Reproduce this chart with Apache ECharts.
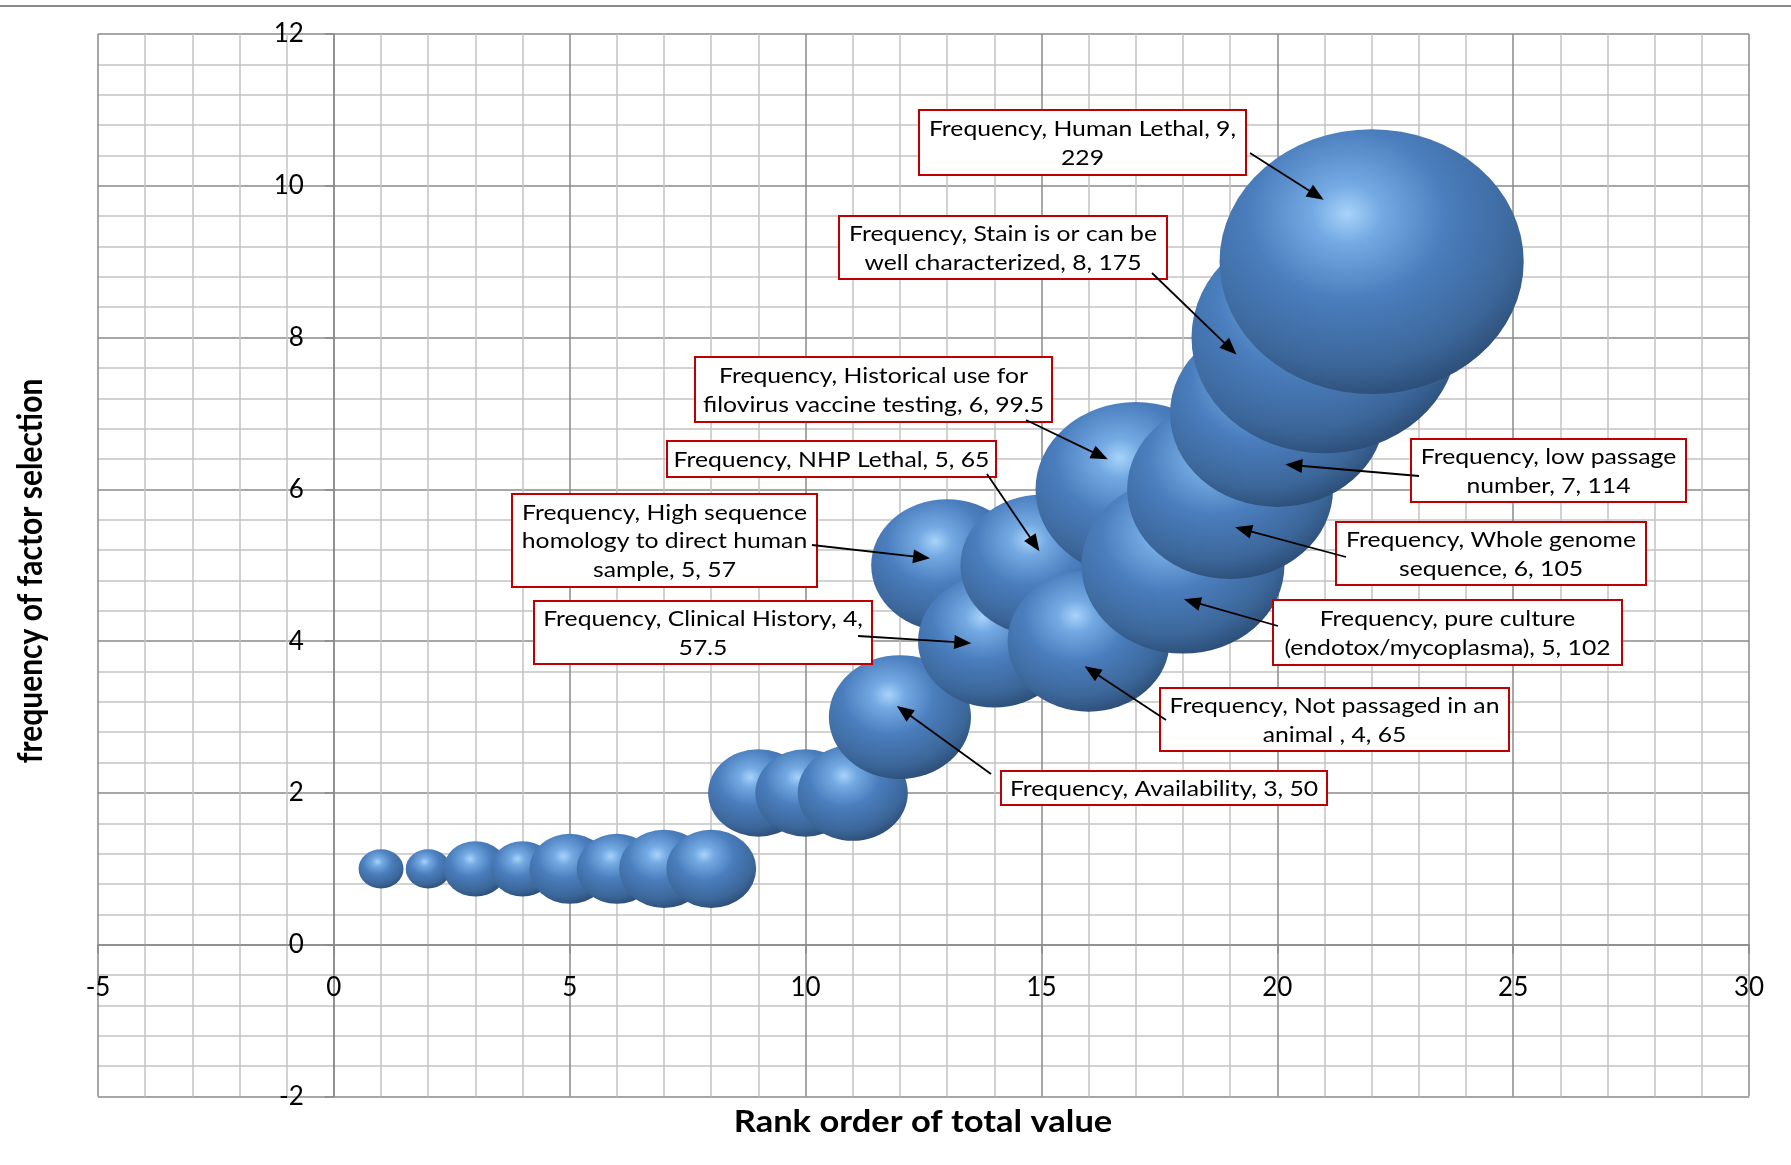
<!DOCTYPE html>
<html>
<head>
<meta charset="utf-8">
<title>Frequency of factor selection by rank order</title>
<style>
  html, body { margin: 0; padding: 0; background: #ffffff; }
  #chart { width: 1791px; height: 1165px; }
</style>
<script src="https://cdn.jsdelivr.net/npm/echarts@6/dist/echarts.min.js"></script>
</head>
<body>
<div id="chart"></div>
<script>
// ---- data -------------------------------------------------------------
const seriesName = 'Frequency';
const ranks      = [1, 2, 3, 4, 5, 6, 7, 8, 9, 10, 11, 12, 13, 14, 15, 16, 17, 18, 19, 20, 21, 22];
const frequency  = [1, 1, 1, 1, 1, 1, 1, 1, 2, 2, 2, 3, 5, 4, 5, 4, 6, 5, 6, 7, 8, 9];
const totalValue = [5, 5, 10, 10, 16, 16, 20, 20, 25, 25, 30, 50, 57, 57.5, 65, 65, 99.5, 102, 105, 114, 175, 229];
const criteria   = [
  null, null, null, null, null, null, null, null, null, null, null,
  'Availability',
  'High sequence homology to direct human sample',
  'Clinical History',
  'NHP Lethal',
  'Not passaged in an animal ',
  'Historical use for filovirus vaccine testing',
  'pure culture (endotox/mycoplasma)',
  'Whole genome sequence',
  'low passage number',
  'Stain is or can be well characterized',
  'Human Lethal'
];
const xTickLabels = [-5, 0, 5, 10, 15, 20, 25, 30];
const yTickLabels = [-2, 0, 2, 4, 6, 8, 10, 12];
const xTitle = 'Rank order of total value';
const yTitle = 'frequency of factor selection';

// ---- styling / layout ------------------------------------------------
const FONT = 'Lato, "Open Sans", sans-serif';
const STRETCH = 1.15;     // the chart is drawn slightly wide: text and bubbles share it
const bubbleKx = 20.1;    // px of width per sqrt(size)
const bubbleKy = 17.5;    // px of height per sqrt(size)

const sphere = new echarts.graphic.RadialGradient(0.42, 0.32, 0.8, [
  { offset: 0.00, color: '#a8d3fa' },
  { offset: 0.14, color: '#74aae3' },
  { offset: 0.40, color: '#4b7ebe' },
  { offset: 0.72, color: '#3b6699' },
  { offset: 0.90, color: '#2a4a72' },
  { offset: 1.00, color: '#111e31' }
]);

// callout boxes: box [x, y, w, h] in px, arrow start in px,
// arrow tip as an offset from the bubble centre, words per text line
const callouts = [
  { rank: 22, box: [919, 110, 327, 65], from: [1250, 153], tip: [-48, -62], lines: [4, 1] },
  { rank: 21, box: [839, 216, 328, 63], from: [1152, 273], tip: [-88, 17],  lines: [6, 4] },
  { rank: 17, box: [695, 357, 357, 65], from: [1026, 420], tip: [-28, -30], lines: [4, 5] },
  { rank: 15, box: [667, 441, 329, 36], from: [987, 474],  tip: [-2, -14],  lines: [5] },
  { rank: 13, box: [512, 494, 305, 93], from: [812, 545],  tip: [-17, -7],  lines: [3, 4, 3] },
  { rank: 14, box: [534, 601, 338, 63], from: [858, 636],  tip: [-23, 2],   lines: [4, 1] },
  { rank: 20, box: [1411, 439, 275, 63], from: [1419, 476], tip: [8, 51],   lines: [3, 3] },
  { rank: 19, box: [1336, 522, 310, 63], from: [1346, 557], tip: [5, 38],   lines: [3, 3] },
  { rank: 18, box: [1273, 600, 349, 65], from: [1278, 626], tip: [1, 34],   lines: [3, 3] },
  { rank: 16, box: [1160, 688, 349, 63], from: [1166, 720], tip: [-4, 25],  lines: [5, 4] },
  { rank: 12, box: [1001, 771, 326, 34], from: [991, 774],  tip: [-3, -11], lines: [4] }
];

function calloutText(i, lines) {
  const words = (seriesName + ', ' + criteria[i] + ', ' + frequency[i] + ', ' + totalValue[i]).split(' ');
  const out = [];
  let k = 0;
  lines.forEach(n => { out.push(words.slice(k, k + n).join(' ')); k += n; });
  return out.join('\n');
}

const points = ranks.map((r, i) => [r, frequency[i], totalValue[i]]);

const majorGrid = { show: true, lineStyle: { color: '#8a8a8a', width: 1.5 } };
const minorGrid = { show: true, lineStyle: { color: '#c3c3c3', width: 1.5 } };
const axisLine  = { show: true, onZero: false, lineStyle: { color: '#8a8a8a', width: 1.5 } };
const axisTick  = { show: true, length: 9, lineStyle: { color: '#8a8a8a', width: 1.5 } };

const option = {
  animation: false,
  backgroundColor: '#ffffff',
  grid: { left: 98, right: 42, top: 34, bottom: 68.5, containLabel: false },
  xAxis: {
    type: 'value',
    min: xTickLabels[0],
    max: xTickLabels[xTickLabels.length - 1],
    interval: xTickLabels[1] - xTickLabels[0],
    axisLine: axisLine,
    axisTick: axisTick,
    minorTick: { show: false, splitNumber: 5 },
    splitLine: majorGrid,
    minorSplitLine: minorGrid,
    axisLabel: { color: '#000', fontFamily: FONT, fontSize: 26, margin: 30 }
  },
  yAxis: {
    type: 'value',
    min: yTickLabels[0],
    max: yTickLabels[yTickLabels.length - 1],
    interval: yTickLabels[1] - yTickLabels[0],
    axisLine: axisLine,
    axisTick: axisTick,
    minorTick: { show: false, splitNumber: 5 },
    splitLine: majorGrid,
    minorSplitLine: minorGrid,
    axisLabel: { color: '#000', fontFamily: FONT, fontSize: 26, margin: 30 }
  },
  series: [{
    name: seriesName,
    type: 'scatter',
    data: points,
    symbol: 'circle',
    symbolSize: v => [bubbleKx * Math.sqrt(v[2]), bubbleKy * Math.sqrt(v[2])],
    itemStyle: { color: sphere, opacity: 1 },
    emphasis: { disabled: true },
    z: 3
  }],
  graphic: [
    { type: 'line', shape: { x1: 0, y1: 6, x2: 1791, y2: 6 }, style: { stroke: '#8a8a8a', lineWidth: 2 }, z: 1 },
    { type: 'text', x: 923, y: 1122, scaleX: STRETCH, z: 110,
      style: { text: xTitle, fill: '#000', fontFamily: FONT, fontWeight: 'bold', fontSize: 30,
               align: 'center', verticalAlign: 'middle', textAlign: 'center', textVerticalAlign: 'middle' } },
    { type: 'text', x: 31, y: 571, rotation: Math.PI / 2, scaleY: STRETCH, z: 110,
      style: { text: yTitle, fill: '#000', fontFamily: FONT, fontWeight: 'bold', fontSize: 30,
               align: 'center', verticalAlign: 'middle', textAlign: 'center', textVerticalAlign: 'middle' } }
  ]
};

const chart = echarts.init(document.getElementById('chart'), null, { renderer: 'canvas' });
chart.setOption(option);

// put each axis line through the other axis's zero
const origin = chart.convertToPixel({ gridIndex: 0 }, [0, 0]);
const corner = chart.convertToPixel({ gridIndex: 0 }, [xTickLabels[0], yTickLabels[0]]);
const yAxisOffset = -(origin[0] - corner[0]);
const xAxisOffset = -(corner[1] - origin[1]);

// callout boxes with arrows pointing at their bubbles
const extra = [];
callouts.forEach(c => {
  const i = ranks.indexOf(c.rank);
  const centre = chart.convertToPixel({ seriesIndex: 0 }, [ranks[i], frequency[i]]);
  const tip = [centre[0] + c.tip[0], centre[1] + c.tip[1]];
  const [bx, by, bw, bh] = c.box;
  extra.push({ type: 'rect', z: 100, shape: { x: bx, y: by, width: bw, height: bh },
               style: { fill: '#ffffff', stroke: '#c00000', lineWidth: 2 } });
  extra.push({ type: 'text', z: 101, x: bx + bw / 2, y: by + bh / 2 + 1, scaleX: STRETCH,
               style: { text: calloutText(i, c.lines), fill: '#000', fontFamily: FONT, fontSize: 21.5,
                        lineHeight: 28.4, align: 'center', verticalAlign: 'middle',
                        textAlign: 'center', textVerticalAlign: 'middle' } });
  const dx = tip[0] - c.from[0], dy = tip[1] - c.from[1];
  const len = Math.hypot(dx, dy), ux = dx / len, uy = dy / len;
  const headL = 17, headW = 7;
  const base = [tip[0] - ux * headL, tip[1] - uy * headL];
  extra.push({ type: 'line', z: 102, shape: { x1: c.from[0], y1: c.from[1], x2: base[0] + ux * 2, y2: base[1] + uy * 2 },
               style: { stroke: '#000', lineWidth: 1.8 } });
  extra.push({ type: 'polygon', z: 102,
               shape: { points: [tip, [base[0] - uy * headW, base[1] + ux * headW], [base[0] + uy * headW, base[1] - ux * headW]] },
               style: { fill: '#000' } });
});
chart.setOption({
  xAxis: { offset: xAxisOffset },
  yAxis: { offset: yAxisOffset },
  graphic: option.graphic.concat(extra)
});
</script>
</body>
</html>
